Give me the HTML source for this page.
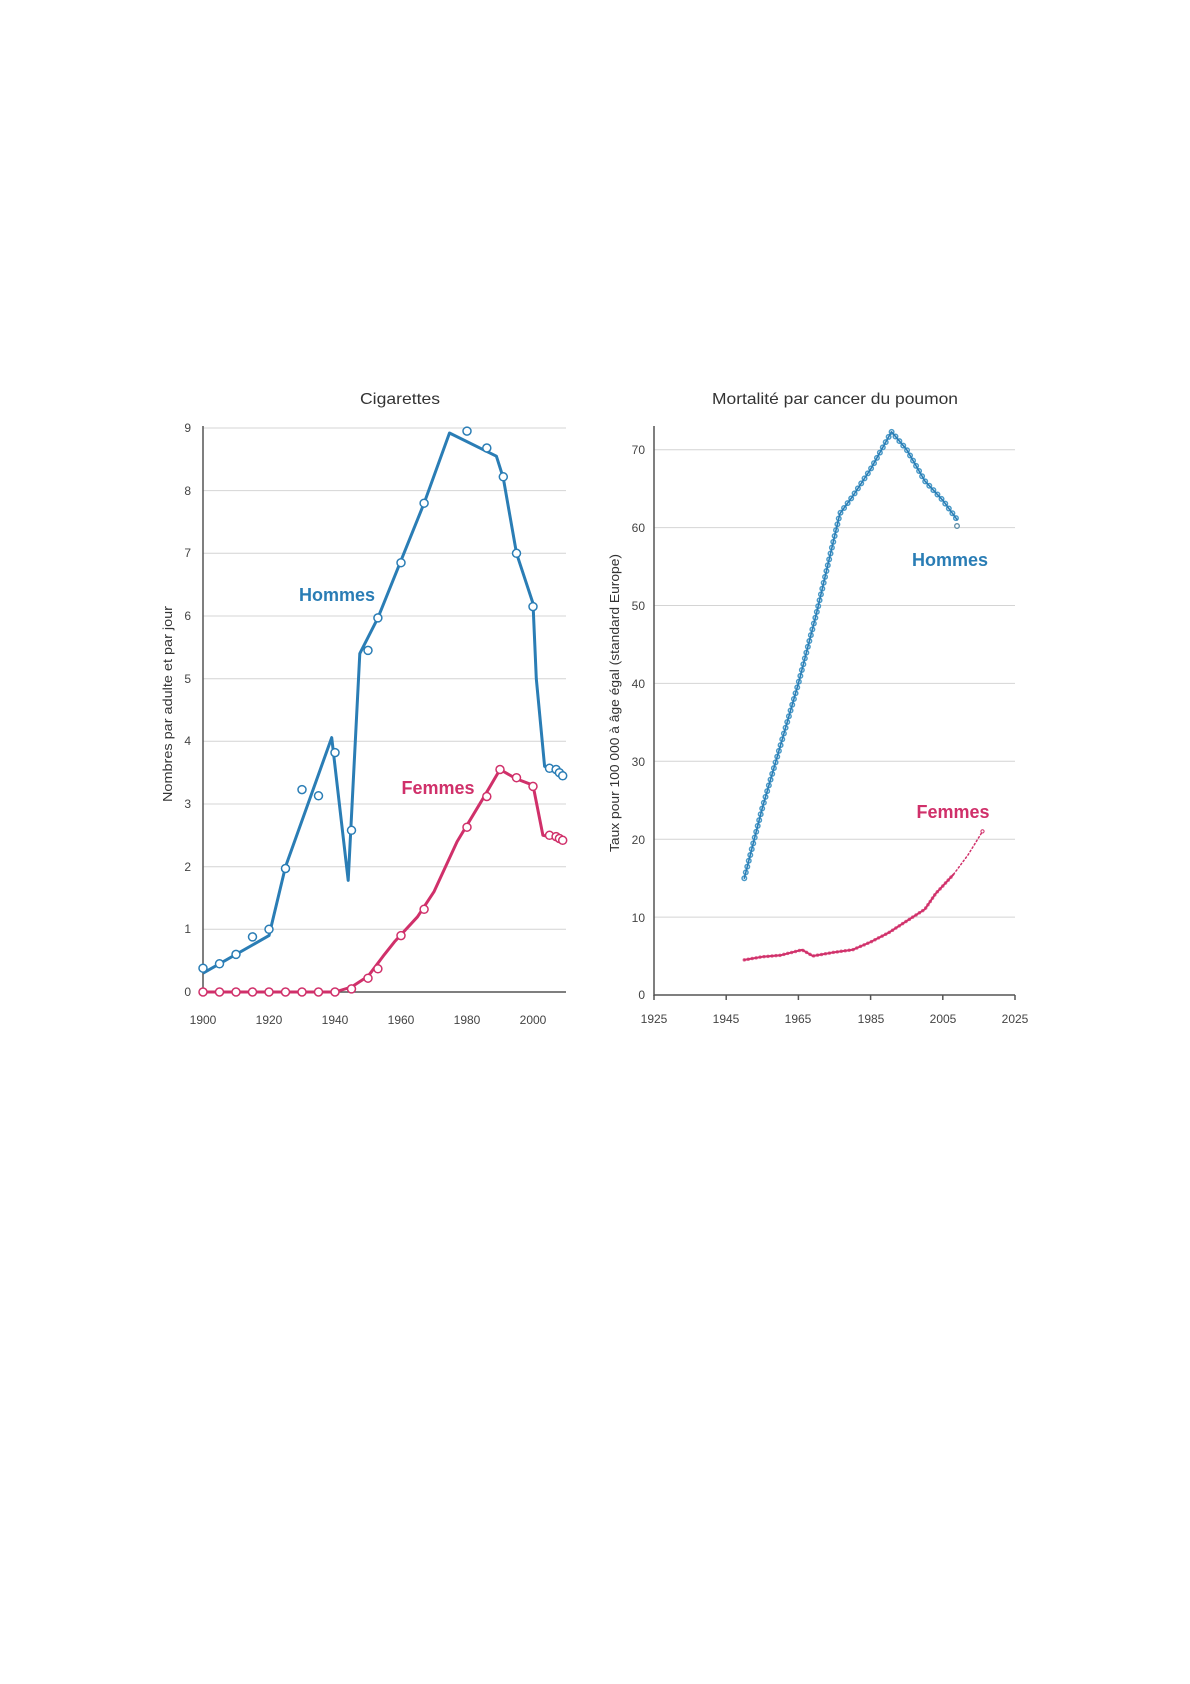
<!DOCTYPE html>
<html><head><meta charset="utf-8"><style>
html,body{margin:0;padding:0;background:#fff;}
svg{display:block;font-family:"Liberation Sans",sans-serif;}
</style></head><body>
<svg width="1190" height="1684" viewBox="0 0 1190 1684" xmlns="http://www.w3.org/2000/svg">
<rect width="1190" height="1684" fill="#fff"/>
<g stroke="#d4d4d4" stroke-width="1">
<line x1="203" x2="566" y1="929.3" y2="929.3"/><line x1="203" x2="566" y1="866.7" y2="866.7"/><line x1="203" x2="566" y1="804" y2="804"/><line x1="203" x2="566" y1="741.3" y2="741.3"/><line x1="203" x2="566" y1="678.7" y2="678.7"/><line x1="203" x2="566" y1="616" y2="616"/><line x1="203" x2="566" y1="553.3" y2="553.3"/><line x1="203" x2="566" y1="490.6" y2="490.6"/><line x1="203" x2="566" y1="428" y2="428"/>
<line x1="654" x2="1015" y1="917.1" y2="917.1"/><line x1="654" x2="1015" y1="839.2" y2="839.2"/><line x1="654" x2="1015" y1="761.3" y2="761.3"/><line x1="654" x2="1015" y1="683.4" y2="683.4"/><line x1="654" x2="1015" y1="605.5" y2="605.5"/><line x1="654" x2="1015" y1="527.6" y2="527.6"/><line x1="654" x2="1015" y1="449.7" y2="449.7"/>
</g>
<g stroke="#555" stroke-width="1.5">
<line x1="203" x2="203" y1="426" y2="993"/><line x1="203" x2="566" y1="992" y2="992"/>
<line x1="654" x2="654" y1="426" y2="996"/><line x1="654" x2="1015" y1="995" y2="995"/>
<line x1="654" x2="654" y1="995" y2="1000"/><line x1="726.2" x2="726.2" y1="995" y2="1000"/><line x1="798.4" x2="798.4" y1="995" y2="1000"/><line x1="870.6" x2="870.6" y1="995" y2="1000"/><line x1="942.8" x2="942.8" y1="995" y2="1000"/><line x1="1015" x2="1015" y1="995" y2="1000"/>
</g>
<g fill="#333">
<text x="400" y="404" text-anchor="middle" font-size="16" textLength="80" lengthAdjust="spacingAndGlyphs">Cigarettes</text>
<text x="835" y="404" text-anchor="middle" font-size="16" textLength="246" lengthAdjust="spacingAndGlyphs">Mortalité par cancer du poumon</text>
<text transform="translate(172,704) rotate(-90)" text-anchor="middle" font-size="13" textLength="196" lengthAdjust="spacingAndGlyphs">Nombres par adulte et par jour</text>
<text transform="translate(619,703) rotate(-90)" text-anchor="middle" font-size="13" textLength="298" lengthAdjust="spacingAndGlyphs">Taux pour 100 000 à âge égal (standard Europe)</text>
</g>
<g fill="#444" font-size="12">
<text x="191" y="432" text-anchor="end">9</text><text x="191" y="495" text-anchor="end">8</text><text x="191" y="557" text-anchor="end">7</text><text x="191" y="620" text-anchor="end">6</text><text x="191" y="683" text-anchor="end">5</text><text x="191" y="745" text-anchor="end">4</text><text x="191" y="808" text-anchor="end">3</text><text x="191" y="871" text-anchor="end">2</text><text x="191" y="933" text-anchor="end">1</text><text x="191" y="996" text-anchor="end">0</text>
<text x="203" y="1024" text-anchor="middle">1900</text><text x="269" y="1024" text-anchor="middle">1920</text><text x="335" y="1024" text-anchor="middle">1940</text><text x="401" y="1024" text-anchor="middle">1960</text><text x="467" y="1024" text-anchor="middle">1980</text><text x="533" y="1024" text-anchor="middle">2000</text>
<text x="645" y="454" text-anchor="end">70</text><text x="645" y="532" text-anchor="end">60</text><text x="645" y="610" text-anchor="end">50</text><text x="645" y="688" text-anchor="end">40</text><text x="645" y="766" text-anchor="end">30</text><text x="645" y="844" text-anchor="end">20</text><text x="645" y="922" text-anchor="end">10</text><text x="645" y="999" text-anchor="end">0</text>
<text x="654" y="1023" text-anchor="middle">1925</text><text x="726" y="1023" text-anchor="middle">1945</text><text x="798" y="1023" text-anchor="middle">1965</text><text x="871" y="1023" text-anchor="middle">1985</text><text x="943" y="1023" text-anchor="middle">2005</text><text x="1015" y="1023" text-anchor="middle">2025</text>
</g>
<!-- left chart lines -->
<g fill="none" stroke-width="3" stroke-linejoin="round">
<path stroke="#2a7db5" d="M203,973.2L269,935.6L285.5,866.7L331.7,737.6L348.2,880.4L359.8,653.6L377.9,617.9L424.1,503.2L449.5,433L496.4,456.2L503.3,478.1L516.5,553.3L533,603.4L536.3,678.7L544.6,766.4L549.5,768.3L562.7,775.8"/>
<path stroke="#d0306a" d="M203,992L335,992L351.5,987L368,976.3L384.5,954.4L394.4,941.9L417.5,916.8L434,891.7L457.1,841.6L483.5,797.7L500,769.5L516.5,778.9L533,785.2L542.9,835.3L566,840.3"/>
</g>
<g fill="#fff" stroke="#2a7db5" stroke-width="1.5">
<circle cx="203" cy="968.2" r="4"/><circle cx="219.5" cy="963.8" r="4"/><circle cx="236" cy="954.4" r="4"/><circle cx="252.5" cy="936.9" r="4"/><circle cx="269" cy="929.3" r="4"/><circle cx="285.5" cy="868.5" r="4"/><circle cx="302" cy="789.6" r="4"/><circle cx="318.5" cy="795.8" r="4"/><circle cx="335" cy="752.6" r="4"/><circle cx="351.5" cy="830.3" r="4"/><circle cx="368" cy="650.4" r="4"/><circle cx="377.9" cy="617.9" r="4"/><circle cx="401" cy="562.7" r="4"/><circle cx="424.1" cy="503.2" r="4"/><circle cx="467" cy="431.1" r="4"/><circle cx="486.8" cy="448" r="4"/><circle cx="503.3" cy="476.8" r="4"/><circle cx="516.5" cy="553.3" r="4"/><circle cx="533" cy="606.6" r="4"/><circle cx="549.5" cy="768.3" r="4"/><circle cx="556.1" cy="769.5" r="4"/><circle cx="559.4" cy="772.7" r="4"/><circle cx="562.7" cy="775.8" r="4"/>
</g>
<g fill="#fff" stroke="#d0306a" stroke-width="1.5">
<circle cx="203" cy="992" r="4"/><circle cx="219.5" cy="992" r="4"/><circle cx="236" cy="992" r="4"/><circle cx="252.5" cy="992" r="4"/><circle cx="269" cy="992" r="4"/><circle cx="285.5" cy="992" r="4"/><circle cx="302" cy="992" r="4"/><circle cx="318.5" cy="992" r="4"/><circle cx="335" cy="992" r="4"/><circle cx="351.5" cy="988.9" r="4"/><circle cx="368" cy="978.2" r="4"/><circle cx="377.9" cy="968.8" r="4"/><circle cx="401" cy="935.6" r="4"/><circle cx="424.1" cy="909.3" r="4"/><circle cx="467" cy="827.2" r="4"/><circle cx="486.8" cy="796.5" r="4"/><circle cx="500" cy="769.5" r="4"/><circle cx="516.5" cy="777.7" r="4"/><circle cx="533" cy="786.4" r="4"/><circle cx="549.5" cy="835.3" r="4"/><circle cx="556.1" cy="836.6" r="4"/><circle cx="559.4" cy="838.5" r="4"/><circle cx="562.7" cy="840.3" r="4"/>
</g>
<!-- right chart -->
<g fill="none" stroke-linejoin="round" stroke-linecap="round">
<path stroke="#4a9ac8" stroke-width="6" stroke-dasharray="0 6" d="M744.3,878.2L762.3,808L780.4,745.7L798.4,683.4L816.5,613.3L839.9,513.6L852.6,496.4L870.6,469.2L891.5,431.8L906.7,449.7L924.8,480.9L942.8,500.3L957.2,519.8"/>
<path stroke="#fff" stroke-width="3" stroke-dasharray="0 6" d="M744.3,878.2L762.3,808L780.4,745.7L798.4,683.4L816.5,613.3L839.9,513.6L852.6,496.4L870.6,469.2L891.5,431.8L906.7,449.7L924.8,480.9L942.8,500.3L957.2,519.8"/>
<path stroke="#2a7db5" stroke-width="1.6" d="M744.3,878.2L762.3,808L780.4,745.7L798.4,683.4L816.5,613.3L839.9,513.6L852.6,496.4L870.6,469.2L891.5,431.8L906.7,449.7L924.8,480.9L942.8,500.3L957.2,519.8"/>
<path stroke="#e06a94" stroke-width="3.5" stroke-dasharray="0 4" d="M744.3,959.9L762.3,956.8L780.4,955.3L802,949.8L812.8,956L834.5,952.2L852.6,949.8L870.6,942L888.7,932.7L906.7,921L924.8,909.3L935.6,893.7L953.6,874.3"/>
<path stroke="#d0306a" stroke-width="2" d="M744.3,959.9L762.3,956.8L780.4,955.3L802,949.8L812.8,956L834.5,952.2L852.6,949.8L870.6,942L888.7,932.7L906.7,921L924.8,909.3L935.6,893.7L953.6,874.3"/>
<path stroke="#d0306a" stroke-width="1.5" stroke-dasharray="1.5 2.5" d="M953.6,874.3L968.1,854.8L982.5,831.4"/>
</g>
<circle cx="957" cy="526" r="2.3" fill="#fff" stroke="#5a8aa5" stroke-width="1.3"/>
<circle cx="982.5" cy="831.4" r="1.6" fill="#fff" stroke="#d0306a" stroke-width="1"/>
<g font-weight="bold" font-size="18">
<text x="337" y="601" text-anchor="middle" fill="#2a7db5">Hommes</text>
<text x="438" y="794" text-anchor="middle" fill="#d0306a">Femmes</text>
<text x="950" y="566" text-anchor="middle" fill="#2a7db5">Hommes</text>
<text x="953" y="818" text-anchor="middle" fill="#d0306a">Femmes</text>
</g>
</svg>
</body></html>
